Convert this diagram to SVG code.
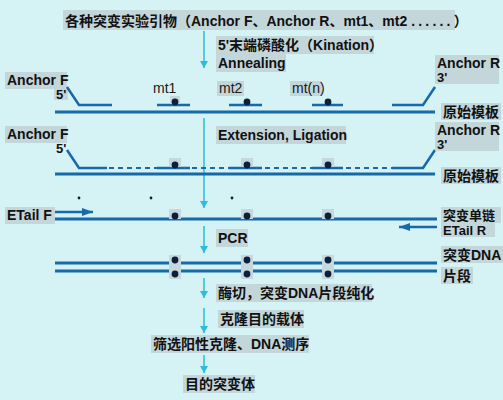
<svg xmlns="http://www.w3.org/2000/svg" width="503" height="400" viewBox="0 0 503 400">
<defs>
<style>
.t{font-family:"Liberation Sans","Noto Sans CJK SC",Arial,sans-serif;font-weight:bold;font-size:14px;fill:#111}
.s{font-size:13px}
.m{font-family:"Liberation Sans",Arial,sans-serif;font-size:14px;fill:#1a1a1a}
.bg{fill:#c3d6da}
.dbg{fill:#c6d8dc}
.tpl{stroke:#1769aa;stroke-width:3;fill:none}
.pr{stroke:#1769aa;stroke-width:2.5;fill:none}
.ds{stroke:#1769aa;stroke-width:2;stroke-dasharray:5 4;fill:none}
.flow{stroke:#2cbcd8;stroke-width:1.5;fill:none}
.dot{fill:#0b1f3f}
</style>
<marker id="ah" markerWidth="8" markerHeight="10" refX="7" refY="5" orient="auto" markerUnits="userSpaceOnUse">
<path d="M0,1 L7,5 L0,9 Z" fill="#2cbcd8"/>
</marker>
<marker id="bh" markerWidth="12" markerHeight="10" refX="11" refY="5" orient="auto" markerUnits="userSpaceOnUse">
<path d="M0,1 L11,5 L0,9 Z" fill="#1769aa"/>
</marker>
</defs>
<rect width="503" height="400" fill="#d5f2f5"/>

<g id="connectors">
<line class="flow" x1="204" y1="31" x2="204" y2="68" marker-end="url(#ah)"/>
<line class="flow" x1="204" y1="118" x2="204" y2="208" marker-end="url(#ah)"/>
<line class="flow" x1="204" y1="226" x2="204" y2="253" marker-end="url(#ah)"/>
<line class="flow" x1="204" y1="278" x2="204" y2="298" marker-end="url(#ah)"/>
<line class="flow" x1="204" y1="308" x2="204" y2="333" marker-end="url(#ah)"/>
<line class="flow" x1="204" y1="355" x2="204" y2="373" marker-end="url(#ah)"/>
</g>

<g id="title">
<rect class="bg" x="63" y="10" width="392" height="20"/>
<text class="t" x="65" y="26">各种突变实验引物（Anchor F、Anchor R、mt1、mt2 <tspan letter-spacing="3.2">......</tspan>）</text>
</g>
<g id="step-kination">
<rect class="bg" x="216" y="36" width="158" height="18"/>
<text class="t" x="218" y="50">5'末端磷酸化（Kination）</text>
</g>
<g id="step-annealing">
<rect class="bg" x="216" y="54" width="70" height="18"/>
<text class="t" x="218" y="68">Annealing</text>
</g>

<g id="row1">
<rect class="bg" x="5" y="72" width="62" height="17"/>
<text class="t" x="7" y="85">Anchor F</text>
<rect class="bg" x="54" y="88" width="14" height="12"/>
<text class="t s" x="56" y="99">5'</text>
<polyline class="pr" points="67,87 79,105 112,105"/>
<text class="m" x="153" y="93">mt1</text>
<line class="pr" x1="157" y1="105" x2="190" y2="105"/>
<rect class="dbg" x="170" y="96" width="10" height="8"/>
<circle class="dot" cx="175" cy="102" r="3.4"/>
<rect class="bg" x="217" y="81" width="27" height="15"/>
<text class="m" x="219" y="93">mt2</text>
<line class="pr" x1="229" y1="105" x2="262" y2="105"/>
<circle class="dot" cx="247" cy="102" r="3.4"/>
<rect class="bg" x="290" y="81" width="32" height="15"/>
<text class="m" x="292" y="93">mt(n)</text>
<line class="pr" x1="312" y1="105" x2="343" y2="105"/>
<circle class="dot" cx="328" cy="102" r="3.4"/>
<polyline class="pr" points="392,105 423,105 435,87"/>
<rect class="bg" x="435" y="55" width="64" height="29"/>
<text class="t" x="437" y="68">Anchor R</text>
<text class="t s" x="437" y="82">3'</text>
<line class="tpl" x1="55" y1="112" x2="435" y2="112"/>
<rect class="bg" x="441" y="103" width="60" height="17"/>
<text class="t" x="443" y="117">原始模板</text>
</g>

<g id="step-extension">
<rect class="bg" x="216" y="126" width="130" height="18"/>
<text class="t" x="218" y="140">Extension, Ligation</text>
</g>

<g id="row2">
<rect class="bg" x="5" y="126" width="62" height="17"/>
<text class="t" x="7" y="139">Anchor F</text>
<text class="t s" x="56" y="153">5'</text>
<polyline class="pr" points="67,150 79,168 107,168"/>
<line class="ds" x1="109" y1="168" x2="157" y2="168"/>
<line class="pr" x1="157" y1="168" x2="190" y2="168"/>
<line class="ds" x1="192" y1="168" x2="229" y2="168"/>
<line class="pr" x1="229" y1="168" x2="262" y2="168"/>
<line class="ds" x1="265" y1="168" x2="312" y2="168"/>
<line class="pr" x1="312" y1="168" x2="343" y2="168"/>
<line class="ds" x1="346" y1="168" x2="392" y2="168"/>
<polyline class="pr" points="392,168 423,168 435,150"/>
<rect class="dbg" x="169" y="158" width="12" height="9"/>
<circle class="dot" cx="175" cy="165" r="3.4"/>
<rect class="dbg" x="241" y="158" width="12" height="9"/>
<circle class="dot" cx="247" cy="165" r="3.4"/>
<rect class="dbg" x="322" y="158" width="12" height="9"/>
<circle class="dot" cx="328" cy="165" r="3.4"/>
<rect class="bg" x="435" y="122" width="64" height="29"/>
<text class="t" x="437" y="135">Anchor R</text>
<text class="t s" x="437" y="149">3'</text>
<line class="tpl" x1="55" y1="174" x2="435" y2="174"/>
<rect class="bg" x="441" y="167" width="60" height="17"/>
<text class="t" x="443" y="181">原始模板</text>
</g>

<g id="ellipsis">
<circle class="dot" cx="79" cy="198" r="1.4"/>
<circle class="dot" cx="151" cy="198" r="1.4"/>
<circle class="dot" cx="232" cy="198" r="1.4"/>
</g>

<g id="row3">
<rect class="bg" x="5" y="207" width="50" height="17"/>
<text class="t" x="7" y="220">ETail F</text>
<line x1="55" y1="212" x2="93" y2="212" stroke="#1769aa" stroke-width="2.5" marker-end="url(#bh)"/>
<line class="tpl" x1="55" y1="219" x2="437" y2="219"/>
<rect class="dbg" x="169" y="209" width="12" height="10"/>
<circle class="dot" cx="175" cy="216" r="3.4"/>
<rect class="dbg" x="241" y="209" width="12" height="10"/>
<circle class="dot" cx="247" cy="216" r="3.4"/>
<rect class="dbg" x="322" y="209" width="12" height="10"/>
<circle class="dot" cx="328" cy="216" r="3.4"/>
<rect class="bg" x="441" y="207" width="60" height="16"/>
<text class="t s" x="443" y="220">突变单链</text>
<line x1="437" y1="227" x2="399" y2="227" stroke="#1769aa" stroke-width="2.5" marker-end="url(#bh)"/>
<rect class="bg" x="441" y="223" width="54" height="14"/>
<text class="t s" x="443" y="235">ETail R</text>
</g>

<g id="step-pcr">
<rect class="bg" x="216" y="229" width="32" height="18"/>
<text class="t" x="218" y="243">PCR</text>
</g>

<g id="row4">
<line class="tpl" x1="55" y1="263" x2="437" y2="263"/>
<line class="tpl" x1="55" y1="271" x2="437" y2="271"/>
<rect class="dbg" x="169" y="255" width="12" height="24"/>
<circle class="dot" cx="175" cy="260" r="3.4"/>
<circle class="dot" cx="175" cy="274" r="3.4"/>
<rect class="dbg" x="241" y="255" width="12" height="24"/>
<circle class="dot" cx="247" cy="260" r="3.4"/>
<circle class="dot" cx="247" cy="274" r="3.4"/>
<rect class="dbg" x="322" y="255" width="12" height="24"/>
<circle class="dot" cx="328" cy="260" r="3.4"/>
<circle class="dot" cx="328" cy="274" r="3.4"/>
<rect class="bg" x="441" y="246" width="62" height="17"/>
<text class="t" x="443" y="260">突变DNA</text>
<rect class="bg" x="441" y="267" width="32" height="17"/>
<text class="t" x="443" y="281">片段</text>
</g>

<g id="step-digest">
<rect class="bg" x="216" y="284" width="156" height="18"/>
<text class="t" x="218" y="298">酶切，突变DNA片段纯化</text>
</g>
<g id="step-clone">
<rect class="bg" x="218" y="310" width="86" height="18"/>
<text class="t" x="220" y="324">克隆目的载体</text>
</g>
<g id="step-screen">
<rect class="bg" x="151" y="335" width="158" height="18"/>
<text class="t" x="153" y="349">筛选阳性克隆、DNA测序</text>
</g>
<g id="step-mutant">
<rect class="bg" x="183" y="375" width="72" height="18"/>
<text class="t" x="185" y="389">目的突变体</text>
</g>
</svg>
